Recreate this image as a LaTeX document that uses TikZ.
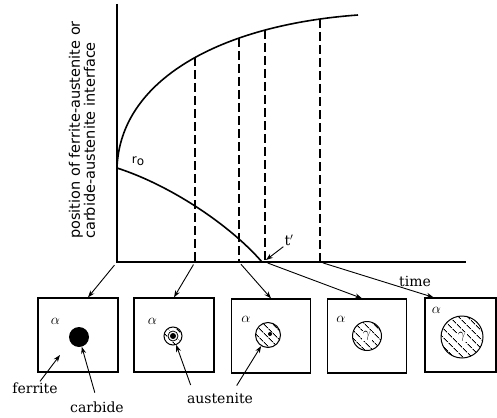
\documentclass[tikz,border=0pt]{standalone}
\usepackage{fontspec}
\setmainfont{DejaVu Serif}
\setsansfont{DejaVu Sans}
\usetikzlibrary{arrows.meta}
\usetikzlibrary{patterns.meta}
\tikzset{
	axis/.style = {line width=1.6pt},
	guide/.style = {line width=1.3pt, dash pattern=on 9pt off 4pt},
	feed/.style = {line width=0.9pt, -{Stealth[length=7pt,width=5pt]}},
	cell/.style = {draw, line width=1.3pt, minimum width=80pt, minimum height=74pt},
	grain/.style = {draw, circle, line width=1pt, inner sep=0pt, pattern={Lines[angle=-45,distance=6.5pt,line width=1pt]}},
	phase/.style = {fill=white, inner sep=0.6pt, font=\fontsize{14}{14}\selectfont},
	tag/.style = {font=\fontsize{14}{14}\selectfont, inner sep=1pt},
}

\begin{document}
\begin{tikzpicture}[x=1pt, y=-1pt]
		\useasboundingbox (0,0) rectangle (497,417);
		\coordinate (O) at (117,262);
		\coordinate (Y) at (117,4);
		\coordinate (X) at (466,262);
		\coordinate (r0) at (117,168);
		\draw[axis] (Y) -- (O) -- (X);
		\draw[axis] (r0) .. controls (120,80) and (220,25) .. (358,15);
		\draw[axis] (r0) .. controls (170,185) and (230,225) .. (262,262);
		\foreach \x/\y [count=\i] in {195/57, 239/38, 265/30, 320/19}{
			\coordinate (top\i) at (\x,\y);
			\coordinate (foot\i) at (\x,262);
			\draw[guide] (top\i) -- (foot\i);
		}
		\node (R) [font=\sffamily\fontsize{12}{12}\selectfont, inner sep=0pt] at (138,161) {r\raisebox{-2pt}{o}};
		\node (L) [rotate=90, align=left, font=\sffamily\fontsize{14.5}{14}\selectfont] at (82,130) {position of ferrite-austenite or\\carbide-austenite interface};
		\node (T) [tag] at (415,281) {time};
		\node (tq) [tag] at (289,240) {t$'$};
		\coordinate (tp) at (266,260);
		\draw[feed] (tq.south west) -- (tp);
		%
		\node (B1) [cell] at (78,335) {};
		\node (B2) [cell] at (174,335) {};
		\node (B3) [cell, minimum width=79pt] at (271,336) {};
		\node (B4) [cell, minimum width=79pt] at (367,336) {};
		\node (B5) [cell, minimum width=71pt] at (460.5,335) {};
		\draw[feed, shorten <=4pt] (O) -- ([xshift=10pt]B1.north);
		\draw[feed, shorten <=3pt] (foot1) -- (B2.north);
		\draw[feed, shorten <=3pt] (foot2) -- (B3.north);
		\draw[feed, shorten <=3pt] (foot3) -- ([xshift=-5pt]B4.north);
		\draw[feed, shorten <=3pt] (foot4) -- ([xshift=-27pt]B5.north);
		\node [tag] at ([shift={(18,24)}]B1.north west) {$\alpha$};
		\node [tag] at ([shift={(19,24)}]B2.north west) {$\alpha$};
		\node [tag] at ([shift={(15,21)}]B3.north west) {$\alpha$};
		\node [tag] at ([shift={(14,21)}]B4.north west) {$\alpha$};
		\node [tag] at ([shift={(12,13)}]B5.north west) {$\alpha$};
		%
		\node (C1) [circle, fill, minimum size=20pt, inner sep=0pt] at (79,337) {};
		\node (C2) [grain, minimum size=18pt] at (173,336) {};
		\node (W2) [circle, draw, fill=white, line width=0.8pt, minimum size=10pt, inner sep=0pt] at (C2) {};
		\node (K2) [circle, fill, minimum size=6pt, inner sep=0pt] at (C2) {};
		\node (C3) [grain, minimum size=25pt] at (268,335) {};
		\node (K3) [circle, fill, minimum size=4pt, inner sep=0pt] at (270,334) {};
		\node (C4) [grain, minimum size=29pt] at (367,336) {};
		\node (G4) [phase] at (C4) {$\gamma$};
		\node (C5) [grain, minimum size=42pt] at (462,337) {};
		\node (G5) [phase] at (C5) {$\gamma$};
		%
		\node (F) [tag] at (35,388) {ferrite};
		\node (Cb) [tag] at (97,407) {carbide};
		\node (A) [tag] at (220,398) {austenite};
		\coordinate (m) at (60,355);
		\draw[feed] ([xshift=5pt]F.north) -- (m);
		\draw[feed, shorten <=8pt] (Cb.north) -- (C1);
		\draw[feed, shorten <=7pt] ([xshift=-27pt]A.north) -- (C2);
		\draw[feed, shorten <=7pt] ([xshift=13pt]A.north) -- (C3);
	\end{tikzpicture}
\end{document}
